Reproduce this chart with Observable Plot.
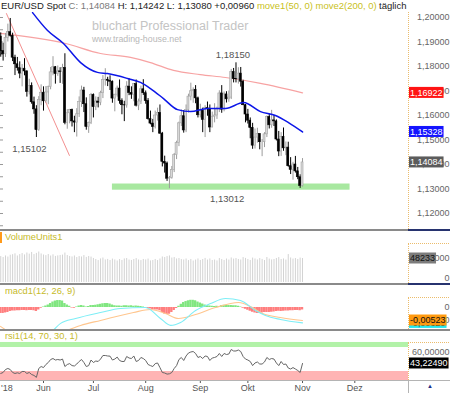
<!DOCTYPE html>
<html>
<head>
<meta charset="utf-8">
<script src="https://cdn.jsdelivr.net/npm/d3@7"></script>
<script src="https://cdn.jsdelivr.net/npm/@observablehq/plot@0.6"></script>
<style>
  html, body { margin: 0; padding: 0; background: #fff; }
  #chart { position: relative; width: 450px; height: 393px; overflow: hidden; background: #fff;
           font-family: "Liberation Sans", Arial, sans-serif; }
</style>
</head>
<body>
<div id="chart"></div>
<script>
// ================= DATA =================
const tradingDays = {
  "2018-05": [8,9,10,11,14,15,16,17,18,21,22,23,24,25,28,29,30,31],
  "2018-06": [1,4,5,6,7,8,11,12,13,14,15,18,19,20,21,22,25,26,27,28,29],
  "2018-07": [2,3,4,5,6,9,10,11,12,13,16,17,18,19,20,23,24,25,26,27,30,31],
  "2018-08": [1,2,3,6,7,8,9,10,13,14,15,16,17,20,21,22,23,24,27,28,29,30,31],
  "2018-09": [3,4,5,6,7,10,11,12,13,14,17,18,19,20,21,24,25,26,27,28],
  "2018-10": [1,2,3,4,5,8,9,10,11,12,15,16,17,18,19,22,23,24,25,26,29,30,31],
  "2018-11": [1]
};

const open = [
  1.1922,1.1863,1.1850,1.1917,1.1940,1.1925,1.1836,1.1809,1.1793,1.1771,1.1791,1.1780,1.1696,1.1720,1.1654,1.1625,1.1540,1.1664,
  1.1693,1.1658,1.1694,1.1716,1.1776,1.1797,1.1769,1.1780,1.1777,1.1794,1.1570,1.1609,1.1623,1.1576,1.1571,1.1605,1.1655,1.1702,1.1646,1.1553,1.1570,
  1.1684,1.1634,1.1657,1.1652,1.1691,1.1745,1.1746,1.1742,1.1738,1.1669,1.1685,1.1710,1.1659,1.1642,1.1641,1.1718,1.1692,1.1685,1.1728,1.1640,1.1657,1.1707,
  1.1691,1.1659,1.1585,1.1567,1.1553,1.1600,1.1610,1.1526,1.1411,1.1404,1.1342,1.1345,1.1377,1.1438,1.1487,1.1568,1.1597,1.1539,1.1622,1.1677,1.1699,1.1705,1.1670,
  1.1601,1.1619,1.1582,1.1630,1.1626,1.1551,1.1595,1.1600,1.1625,1.1690,1.1624,1.1686,1.1666,1.1673,1.1777,1.1749,1.1748,1.1771,1.1738,1.1642,
  1.1604,1.1579,1.1549,1.1477,1.1510,1.1524,1.1491,1.1491,1.1523,1.1594,1.1560,1.1580,1.1576,1.1502,1.1453,1.1513,1.1466,1.1469,1.1393,1.1378,1.1400,1.1372,1.1348,
  1.13124
];
const high = [
  1.1937,1.1895,1.1935,1.1973,1.1996,1.1936,1.1846,1.1837,1.1819,1.1808,1.1832,1.1782,1.1748,1.1733,1.1675,1.1640,1.1677,1.1725,
  1.1717,1.1718,1.1720,1.1796,1.1840,1.1800,1.1802,1.1795,1.1809,1.1852,1.1624,1.1625,1.1626,1.1597,1.1628,1.1676,1.1720,1.1715,1.1672,1.1573,1.1690,
  1.1688,1.1676,1.1674,1.1699,1.1763,1.1791,1.1756,1.1762,1.1741,1.1686,1.1720,1.1745,1.1668,1.1658,1.1738,1.1750,1.1717,1.1730,1.1745,1.1667,1.1720,1.1746,
  1.1700,1.1669,1.1618,1.1584,1.1618,1.1630,1.1643,1.1531,1.1434,1.1410,1.1351,1.1392,1.1445,1.1495,1.1573,1.1623,1.1620,1.1643,1.1687,1.1732,1.1713,1.1722,1.1675,
  1.1646,1.1630,1.1640,1.1655,1.1643,1.1614,1.1648,1.1634,1.1701,1.1722,1.1696,1.1697,1.1700,1.1788,1.1792,1.18150,1.1795,1.1796,1.1744,1.1645,
  1.1625,1.1590,1.1568,1.1545,1.1548,1.1525,1.1502,1.1530,1.1598,1.1605,1.1621,1.1600,1.1582,1.1535,1.1530,1.1549,1.1492,1.1491,1.1428,1.1409,1.1433,1.1388,1.1358,
  1.14242
];
const low = [
  1.1838,1.1822,1.1837,1.1900,1.1920,1.1820,1.1763,1.1781,1.1750,1.1717,1.1762,1.1675,1.1684,1.1646,1.1605,1.15102,1.1535,1.1640,
  1.1618,1.1650,1.1644,1.1705,1.1762,1.1728,1.1760,1.1731,1.1727,1.1562,1.1544,1.1566,1.1553,1.1530,1.1512,1.1592,1.1633,1.1612,1.1540,1.1527,1.1563,
  1.1590,1.1620,1.1631,1.1640,1.1669,1.1720,1.1718,1.1702,1.1650,1.1615,1.1675,1.1646,1.1603,1.1575,1.1630,1.1681,1.1666,1.1656,1.1635,1.1620,1.1645,1.1682,
  1.1646,1.1581,1.1562,1.1530,1.1545,1.1577,1.1523,1.1390,1.1365,1.1331,1.13012,1.1340,1.1367,1.1420,1.1473,1.1555,1.1528,1.1530,1.1610,1.1660,1.1650,1.1648,1.1590,
  1.1590,1.1530,1.1510,1.1597,1.1530,1.1550,1.1570,1.1584,1.1612,1.1609,1.1615,1.1651,1.1654,1.1665,1.1733,1.1733,1.1728,1.1716,1.1640,1.1570,
  1.1565,1.1505,1.1462,1.1463,1.1487,1.1460,1.1432,1.1469,1.1510,1.1545,1.1548,1.1555,1.1496,1.1432,1.1433,1.1454,1.1436,1.1389,1.1359,1.1336,1.1365,1.1338,1.13025,
  1.13080
];
const close = [
  1.1863,1.1850,1.1917,1.1940,1.1925,1.1836,1.1809,1.1793,1.1771,1.1791,1.1780,1.1696,1.1720,1.1654,1.1625,1.1540,1.1664,1.1693,
  1.1658,1.1694,1.1716,1.1776,1.1797,1.1769,1.1780,1.1777,1.1794,1.1570,1.1609,1.1623,1.1576,1.1571,1.1605,1.1655,1.1702,1.1646,1.1553,1.1570,1.1684,
  1.1634,1.1657,1.1652,1.1691,1.1745,1.1746,1.1742,1.1738,1.1669,1.1685,1.1710,1.1659,1.1642,1.1641,1.1718,1.1692,1.1685,1.1728,1.1640,1.1657,1.1707,1.1691,
  1.1659,1.1585,1.1567,1.1553,1.1600,1.1610,1.1526,1.1411,1.1404,1.1342,1.1345,1.1377,1.1438,1.1487,1.1568,1.1597,1.1539,1.1622,1.1677,1.1699,1.1705,1.1670,1.1601,
  1.1619,1.1582,1.1630,1.1626,1.1551,1.1595,1.1600,1.1625,1.1690,1.1624,1.1686,1.1666,1.1673,1.1777,1.1749,1.1748,1.1771,1.1738,1.1642,1.1604,
  1.1579,1.1549,1.1477,1.1510,1.1524,1.1491,1.1491,1.1523,1.1594,1.1560,1.1580,1.1576,1.1502,1.1453,1.1513,1.1466,1.1469,1.1393,1.1378,1.1400,1.1372,1.1348,1.13124,
  1.14084
];
const volume = [
  52100,50300,53400,51200,54800,55900,57600,53300,56100,58200,55400,59300,57000,60400,56200,58500,61300,57400,
  55200,54100,56300,53200,55600,52400,53500,54300,55100,59200,54200,52300,51400,53300,50200,52100,51300,54100,50400,52200,51100,
  48300,46200,44100,47400,49200,45300,46400,44200,47100,45300,43200,46100,44300,47400,48200,45100,44300,46200,48100,45200,44100,46300,
  45300,47100,43400,44200,46300,44100,47200,51300,50200,52100,53400,49200,50100,47300,48200,46100,45300,47200,44100,46300,43200,45100,47300,
  44300,46200,48400,45100,47300,44200,45100,43300,48200,46100,44300,47200,45100,49300,47100,48200,46300,45200,50100,48400,
  46200,44300,49100,47200,45300,48100,46400,44200,50300,47100,45400,46200,48300,50100,46200,47300,45100,56200,49300,47100,48200,46300,49100,
  48233
];
const macdHist = [
  -0.0024,-0.0024,-0.0022,-0.0020,-0.0016,-0.0014,-0.0014,-0.0013,-0.0013,-0.0012,-0.0012,-0.0013,-0.0012,-0.0012,-0.0013,-0.0016,-0.0010,-0.0003,
  0.0002,0.0006,0.0010,0.0016,0.0022,0.0026,0.0028,0.0028,0.0026,0.0016,0.0010,0.0005,-0.0002,-0.0003,0.0002,0.0006,0.0008,0.0006,0.0002,0.0004,0.0008,
  0.0008,0.0009,0.0011,0.0013,0.0015,0.0016,0.0016,0.0014,0.0010,0.0007,0.0006,0.0006,0.0005,0.0007,0.0007,0.0006,0.0007,0.0005,0.0006,0.0005,0.0004,0.0002,
  -0.0001,-0.0004,-0.0006,-0.0009,-0.0010,-0.0010,-0.0013,-0.0020,-0.0026,-0.0028,-0.0027,-0.0020,-0.0012,-0.0004,0.0005,0.0013,0.0020,0.0024,0.0027,0.0029,0.0029,0.0027,0.0022,
  0.0018,0.0014,0.0010,0.0007,0.0006,0.0005,0.0004,0.0005,0.0004,0.0008,0.0009,0.0009,0.0008,0.0008,0.0007,0.0007,0.0005,0.0002,-0.0003,-0.0007,
  -0.0011,-0.0015,-0.0019,-0.0022,-0.0024,-0.0024,-0.0022,-0.0020,-0.0020,-0.0020,-0.0019,-0.0018,-0.0016,-0.0015,-0.0016,-0.0015,-0.0014,-0.0014,-0.0013,-0.0013,-0.0012,-0.0012,-0.0013,
  -0.0010
];
const rsi = [
  28,29.5,34,35.6,34,29.5,28,29,28,31,31,28,29.5,26.4,25,22,35.6,38.6,
  37,41.7,44.7,49.3,50.8,48.5,49.3,48.5,50,38.6,41.7,43,40,39.4,42.4,46.3,49.3,44.7,38.6,40,48.5,
  44.7,47,46.3,50,55.4,55.4,54.7,54.4,48.5,50,53,47.8,46.3,46.3,53.9,51.6,50.8,54.7,46.3,47.8,52.4,50.8,
  47.8,41.7,40,38.6,43,44,37,29.5,28.7,27,27.5,29.5,35.6,40,49.3,52.4,47.8,54.7,59.2,60.8,61.5,58.5,52.4,
  53.9,50.8,54.7,53.9,47.8,51.6,52.4,53.9,58.5,53.9,58.5,56.9,57.7,64.6,62.3,62.3,63.8,61.5,53.9,50,
  48.5,46.3,40,44,45.5,42.4,42.4,45.5,52.4,49.3,50.8,50,44,40,46.3,41.7,42.4,36.3,34.8,37,34.8,32.5,29.5,
  43.2249
];

// moving averages / indicator lines (position in trading days from 1 Jun 2018)
const ma50At  = [-4.6, 1.7, 8.4, 15.6, 22.7, 26.9, 35.4, 40.8, 45, 50.5, 56.4, 61.9, 69, 76.6, 84.2, 91.3, 97.6, 103.1, 109];
const ma50Val = [1.2020, 1.1947, 1.1894, 1.1816, 1.1776, 1.1771, 1.1751, 1.1735, 1.1710, 1.1669, 1.1624, 1.1616, 1.1629, 1.1629, 1.1653, 1.1616, 1.1600, 1.1571, 1.15328];
const ma200At  = [-18.1, 9.3, 24, 36.6, 45, 54.7, 66, 76.6, 91.3, 109];
const ma200Val = [1.1935, 1.1894, 1.1853, 1.1837, 1.1816, 1.1784, 1.1767, 1.1755, 1.1731, 1.16922];
const trendAt  = [-15.6, 10.9];
const trendVal = [1.2016, 1.1437];
const macdAt  = [-18.1, 0.8, 3.8, 7.2, 13.5, 24, 32.4, 42.9, 49.2, 53.5, 57.7, 64, 70.3, 76.6, 82.9, 89.2, 93.4, 99.7, 109];
const macdVal = [-0.0113, -0.0109, -0.0093, -0.0064, -0.0044, -0.0020, -0.0004, 0.0000, -0.0044, -0.0072, -0.0060, -0.0012, 0.0016, 0.0036, 0.0028, -0.0012, -0.0032, -0.0048, -0.0062];
const signalAt  = [-18.1, -14.7, -5.5, 2.9, 9.7, 15.6, 24, 37.9, 45, 51.3, 56.8, 64, 72.4, 82.1, 87.1, 92.2, 99.7, 109];
const signalVal = [-0.0076, -0.0097, -0.0121, -0.0117, -0.0093, -0.0072, -0.0052, -0.0020, -0.0008, -0.0024, -0.0044, -0.0028, 0.0000, 0.0020, 0.0004, -0.0024, -0.0040, -0.00523];

const markedHighDate = "2018-09-24";
const markedLowDate = "2018-05-29";
const supportDate = "2018-08-15";
const supportBand = {from: "2018-07-12", to: "2018-11-29", lo: 1.12951, hi: 1.13204};
const rsiZones = [{lo: 67.6, hi: 75.3, fill: "#b2f2a8"}, {lo: 0, hi: 31, fill: "#ffb4b4"}];

const priceTicks = [1.12, 1.13, 1.14, 1.15, 1.16, 1.17, 1.18, 1.19, 1.20];
const monthTickDates = ["2018-05-07","2018-06-01","2018-07-02","2018-08-01","2018-09-03","2018-10-01","2018-11-01","2018-12-03"];
const monthLabels = ["Mai '18","Jun","Jul","Aug","Sep","Okt","Nov","Dez"];

// ================= HELPERS =================
const FONT = '"Liberation Sans", Arial, sans-serif';
const fmtDE = (v, d) => v.toFixed(d).replace(".", ",");
function tradingIndex(s) {
  const base = Date.UTC(2018, 5, 1), t = Date.parse(s + "T00:00:00Z");
  let n = 0;
  if (t >= base) { for (let d = base; d < t; d += 864e5) { const w = new Date(d).getUTCDay(); if (w !== 0 && w !== 6) n++; } }
  else { for (let d = t; d < base; d += 864e5) { const w = new Date(d).getUTCDay(); if (w !== 0 && w !== 6) n--; } }
  return n;
}
const dates = Object.entries(tradingDays).flatMap(([m, ds]) => ds.map(d => `${m}-${String(d).padStart(2, "0")}`));
const idxs = dates.map(tradingIndex);
const N = dates.length;
const candles = dates.map((d, k) => ({date: d, i: idxs[k], o: open[k], h: high[k], l: low[k], c: close[k]}));
const upC = candles.filter(d => d.c >= d.o), dnC = candles.filter(d => d.c < d.o);
const pts = (at, val) => at.map((a, k) => ({i: a, v: val[k]}));
const ma50 = pts(ma50At, ma50Val), ma200 = pts(ma200At, ma200Val), trend = pts(trendAt, trendVal);
const macdLine = pts(macdAt, macdVal), signalLine = pts(signalAt, signalVal);
const vols = volume.map((v, k) => ({i: idxs[k], v}));
const hist = macdHist.map((v, k) => ({i: idxs[k], v}));
const rsiData = rsi.map((v, k) => ({i: idxs[k], v}));
const band = {x1: tradingIndex(supportBand.from), x2: tradingIndex(supportBand.to), lo: supportBand.lo, hi: supportBand.hi};
const supportC = candles.find(d => d.date === supportDate);
const hiC = candles.find(d => d.date === markedHighDate);
const loC = candles.find(d => d.date === markedLowDate);
const monthIdx = monthTickDates.map(tradingIndex);
const monthLabelOf = new Map(monthIdx.map((m, k) => [m, monthLabels[k]]));

const xDomain = [-18.1, 153.6];
const chart = document.getElementById("chart");
function div(css, html = "") {
  const e = document.createElement("div");
  e.style.cssText = "position:absolute;white-space:nowrap;" + css;
  e.innerHTML = html; chart.appendChild(e); return e;
}
function place(svg, top) {
  svg.style.position = "absolute"; svg.style.left = "0px"; svg.style.top = top + "px";
  chart.appendChild(svg); return svg;
}
function tag(plot, value, text, bg, fg) {
  const y = plot.scale("y").apply(value);
  const s = d3.select(plot);
  const t = s.append("text").attr("x", 410).attr("y", y).attr("dy", "0.36em").attr("fill", fg)
    .attr("text-anchor", "start").attr("font-size", 9).attr("font-family", FONT).text(text);
  const w = t.node().getComputedTextLength();
  s.insert("rect", () => t.node()).attr("x", 409).attr("y", y - 5.5).attr("width", w + 2).attr("height", 11).attr("fill", bg);
}
const rightAxis = (ticks, fmt, extra = {}) => Plot.axisY(ticks, {anchor: "right", tickSize: 0, tickPadding: 0, label: null,
  textAnchor: "end", dx: 41, tickFormat: fmt, color: "#666", fontSize: 9, ...extra});
const baseStyle = {background: "transparent", fontFamily: FONT, fontSize: "9px", overflow: "hidden"};

// ================= WATERMARK =================
div("left:92px;top:19px;font-size:12.5px;color:#c4c4c4;", "bluchart Professional Trader");
div("left:92px;top:34px;font-size:8.8px;color:#b8b8b8;", "www.trading-house.net");

// ================= PRICE PANEL =================
const pricePlot = Plot.plot({
  width: 450, height: 230, marginLeft: 0, marginRight: 42, marginTop: 12, marginBottom: 1,
  style: baseStyle,
  x: {domain: xDomain, axis: null},
  y: {domain: [1.11347, 1.20204]},
  marks: [
    Plot.axisY(d3.range(1.115, 1.2025, 0.005), {anchor: "left", tickSize: 3, dx: 3, label: null, tickFormat: () => "", color: "#999"}),
    rightAxis(priceTicks, d => fmtDE(d, 5)),
    Plot.rect([band], {x1: "x1", x2: "x2", y1: "lo", y2: "hi", fill: "#a8e8a0", clip: true}),
    Plot.line(ma200, {x: "i", y: "v", curve: "monotone-x", stroke: "#f7a3a3", strokeWidth: 1.2, clip: true}),
    Plot.line(trend, {x: "i", y: "v", stroke: "#f39090", strokeWidth: 1, clip: true}),
    Plot.ruleX(upC, {x: "i", y1: "l", y2: "h", stroke: "#9c9c9c", strokeWidth: 1, clip: true}),
    Plot.ruleX(dnC, {x: "i", y1: "l", y2: "h", stroke: "#000", strokeWidth: 1, clip: true}),
    Plot.rect(upC, {x1: d => d.i - 0.42, x2: d => d.i + 0.42, y1: "o", y2: "c", fill: "#d8d8d8", stroke: "#a4a4a4", strokeWidth: 0.6, clip: true}),
    Plot.rect(dnC, {x1: d => d.i - 0.42, x2: d => d.i + 0.42, y1: "o", y2: "c", fill: "#000", stroke: "#000", strokeWidth: 0.6, clip: true}),
    Plot.line(ma50, {x: "i", y: "v", curve: "monotone-x", stroke: "#0c16e8", strokeWidth: 1.5, clip: true}),
    Plot.text([hiC], {x: "i", y: "h", text: d => fmtDE(d.h, 5), dy: -8, dx: -3, fill: "#555", fontSize: 9.5}),
    Plot.text([loC], {x: "i", y: "l", text: d => fmtDE(d.l, 5), dy: 11, dx: -7, fill: "#555", fontSize: 9.5}),
    Plot.text([band], {x: d => (d.x1 + d.x2) / 2, y: () => supportC.l, text: () => fmtDE(supportC.l, 5), dy: 10, dx: -4, fill: "#555", fontSize: 9.5})
  ]
});
place(pricePlot, 0);
tag(pricePlot, ma200Val[ma200Val.length - 1], fmtDE(ma200Val[ma200Val.length - 1], 5), "#ff1414", "#fff");
tag(pricePlot, ma50Val[ma50Val.length - 1], fmtDE(ma50Val[ma50Val.length - 1], 5), "#1414ff", "#fff");
tag(pricePlot, close[N - 1], fmtDE(close[N - 1], 5), "#5c5c5c", "#fff");

// ================= VOLUME PANEL =================
const volPlot = Plot.plot({
  width: 450, height: 53, marginLeft: 0, marginRight: 42, marginTop: 0, marginBottom: 2,
  style: baseStyle,
  x: {domain: xDomain, axis: null},
  y: {domain: [0, 102495]},
  marks: [
    Plot.ruleX(vols, {x: "i", y1: 0, y2: "v", stroke: "#d3d3d3", strokeWidth: 1}),
    rightAxis([50000], d => String(d)),
    rightAxis([0], d => String(d), {dy: -4})
  ]
});
place(volPlot, 231);
tag(volPlot, volume[N - 1], String(volume[N - 1]), "#7c7c7c", "#111");

// ================= MACD PANEL =================
const macdPlot = Plot.plot({
  width: 450, height: 45, marginLeft: 0, marginRight: 42, marginTop: 0, marginBottom: 0,
  style: baseStyle,
  x: {domain: xDomain, axis: null},
  y: {domain: [-0.00925, 0.00885]},
  marks: [
    Plot.rect(hist.filter(d => d.v >= 0), {x1: d => d.i - 0.5, x2: d => d.i + 0.5, y1: 0, y2: "v", fill: "#80e680"}),
    Plot.rect(hist.filter(d => d.v < 0), {x1: d => d.i - 0.5, x2: d => d.i + 0.5, y1: 0, y2: "v", fill: "#ff7e7e"}),
    Plot.line(signalLine, {x: "i", y: "v", curve: "monotone-x", stroke: "#ffc68e", strokeWidth: 1.1, clip: true}),
    Plot.line(macdLine, {x: "i", y: "v", curve: "monotone-x", stroke: "#7eeef6", strokeWidth: 1.1, clip: true}),
    rightAxis([0, -0.005], d => d === 0 ? "0" : fmtDE(d, 5))
  ]
});
place(macdPlot, 285);
tag(macdPlot, macdVal[macdVal.length - 1], fmtDE(macdVal[macdVal.length - 1], 5), "#22e6ee", "#111");
tag(macdPlot, signalVal[signalVal.length - 1], fmtDE(signalVal[signalVal.length - 1], 5), "#ff9a10", "#111");

// ================= RSI PANEL + X AXIS =================
const rsiPlot = Plot.plot({
  width: 450, height: 62, marginLeft: 0, marginRight: 42, marginTop: 0, marginBottom: 13,
  style: baseStyle,
  x: {domain: xDomain},
  y: {domain: [17.25, 92.06]},
  marks: [
    Plot.rect(rsiZones, {x1: () => xDomain[0], x2: () => xDomain[1], y1: "lo", y2: "hi", fill: d => d.fill, clip: true}),
    Plot.line(rsiData, {x: "i", y: "v", stroke: "#666", strokeWidth: 1}),
    rightAxis([60], d => fmtDE(d, 5)),
    Plot.axisX(monthIdx, {anchor: "bottom", tickSize: 3, tickPadding: 1, label: null, tickFormat: d => monthLabelOf.get(d), color: "#555", fontSize: 9})
  ]
});
place(rsiPlot, 331);
tag(rsiPlot, rsi[N - 1], fmtDE(rsi[N - 1], 5), "#000", "#fff");

// ================= CHROME =================
const dot = "1px dotted #ebbc6c";
div(`left:408px;top:12px;width:42px;height:217px;border-left:${dot};`);
div(`left:408px;top:243px;width:42px;height:39px;border-left:${dot};border-top:${dot};`);
div(`left:408px;top:297px;width:42px;height:31px;border-left:${dot};border-top:${dot};`);
div(`left:408px;top:342px;width:42px;height:37px;border-left:${dot};border-top:${dot};`);
div("left:0;top:229px;width:450px;height:2px;background:#8a8a8a;");
div("left:408px;top:229px;width:42px;height:2px;background:#27336f;");
div("left:0;top:283px;width:450px;height:2px;background:#8a8a8a;");
div("left:408px;top:283px;width:42px;height:2px;background:#27336f;");
div("left:0;top:329px;width:450px;height:2px;background:#8a8a8a;");
div("left:0;top:380px;width:450px;height:1px;background:#b4b4b4;");
div("left:408px;top:380px;width:1px;height:13px;background:#b4b4b4;");
div("left:427px;top:383px;font-size:6px;color:#1c2f8a;", "&#9650;");

// header
const chg = close[N - 1] - close[N - 2];
div("left:1px;top:0px;font-size:9.5px;line-height:12px;color:#222;",
  `EUR/USD Spot <span style="color:#7a7a7a">C: ${fmtDE(close[N - 1], 5)}</span> H: ${fmtDE(high[N - 1], 5)} L: ${fmtDE(low[N - 1], 5)} ${chg >= 0 ? "+" : ""}${fmtDE(chg, 5)} <span style="color:#c9bf22">move1(50, 0) move2(200, 0)</span>`);
div("left:379px;top:0px;font-size:9.5px;line-height:12px;color:#222;", "täglich");

// panel labels
const lab = "font-size:9.3px;line-height:11px;color:#c6ba2a;";
div("left:0;top:232px;width:2px;height:11px;background:#ff9a1a;");
div("left:5px;top:232px;" + lab, "VolumeUnits1");
div("left:5px;top:286px;" + lab, "macd1(12, 26, 9)");
div("left:5px;top:331px;" + lab, "rsi1(14, 70, 30, 1)");
</script>
</body>
</html>
